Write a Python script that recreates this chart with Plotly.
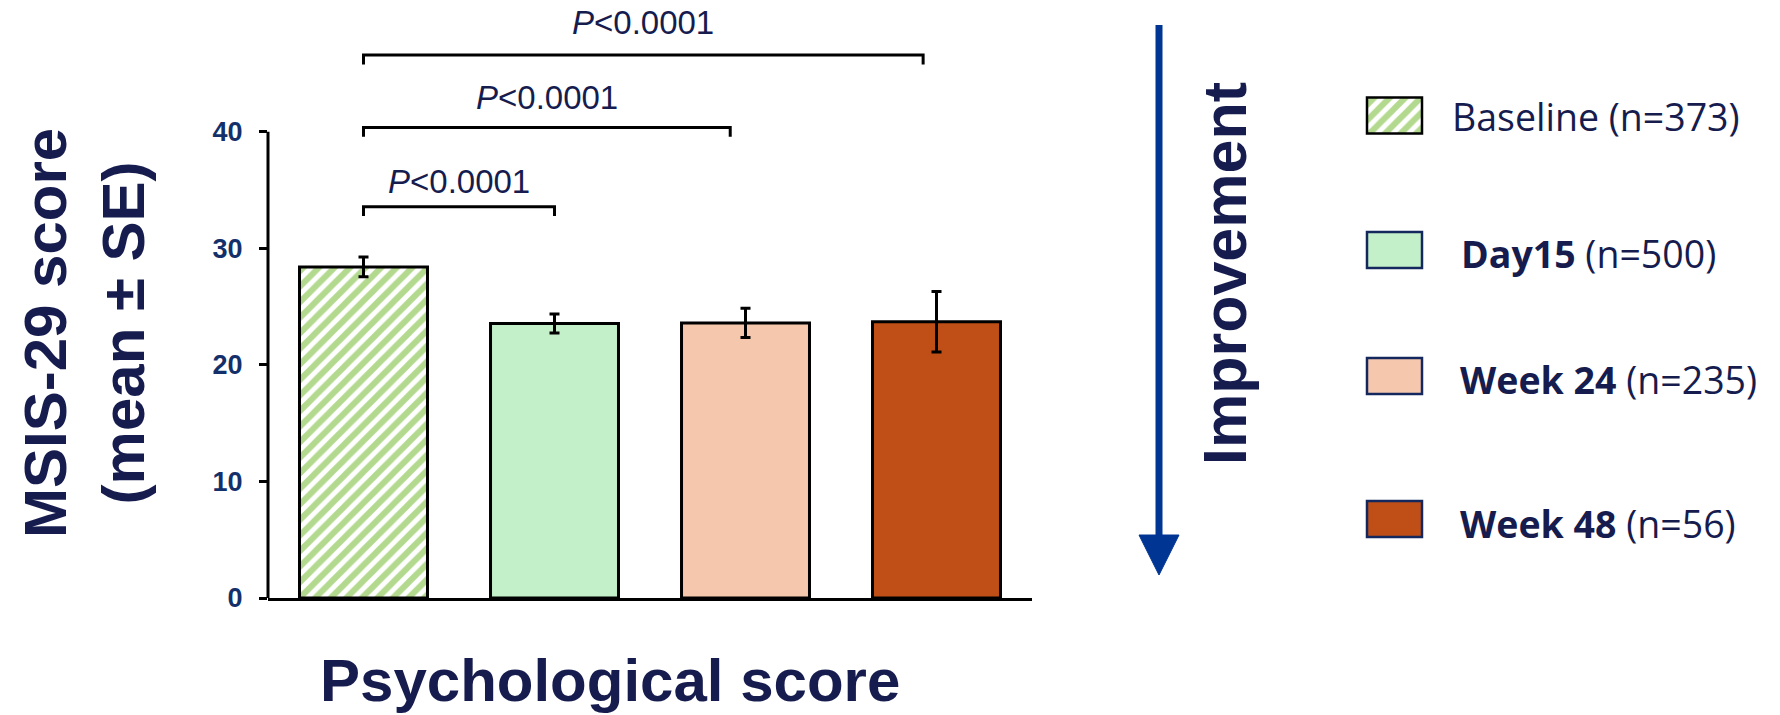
import plotly.graph_objects as go

# ---------------- data ----------------
categories = ["Baseline", "Day15", "Week 24", "Week 48"]
means = [28.4, 23.55, 23.6, 23.7]
se = [0.85, 0.82, 1.25, 2.6]
legend_labels = [
    "Baseline (n=373)",
    "<b>Day15</b> (n=500)",
    "<b>Week 24</b> (n=235)",
    "<b>Week 48</b> (n=56)",
]
y_ticks = [0, 10, 20, 30, 40]
comparisons = [(0, 1), (0, 2), (0, 3)]
p_labels = ["<i>P</i>&lt;0.0001", "<i>P</i>&lt;0.0001", "<i>P</i>&lt;0.0001"]
y_title = "MSIS-29 score<br>(mean ± SE)"
x_title = "Psychological score"
arrow_label = "Improvement"

# ---------------- styles / layout constants ----------------
W, H = 1780, 715
fill_colors = ["#ffffff", "#c3f0c8", "#f5c8ae", "#bf4f16"]
hatch = ["/", "", "", ""]
hatch_color = "#66b31c"
legend_border = ["#000000", "#14285e", "#14285e", "#14285e"]
NAVY = "#161c4e"
TICK_NAVY = "#13306b"
ARROW_BLUE = "#003594"


def px(xp):
    return xp / W


def py(yp):
    return 1 - yp / H


Y_MAX = 48
bracket_levels = [33.56, 40.37, 46.57]   # y of bracket bars
bracket_end_shift = [0.0, -0.08, -0.07]  # right end slightly inside bar centre
bracket_leg = 0.8
label_levels = [35.75, 42.95, 49.35]

fig = go.Figure()

for i, cat in enumerate(categories):
    fig.add_trace(go.Bar(
        x=[cat], y=[means[i]], width=0.67,
        marker=dict(
            color=fill_colors[i],
            line=dict(color="black", width=3),
            pattern=dict(shape=hatch[i], fgcolor=hatch_color, bgcolor=fill_colors[i],
                         size=11, solidity=0.55),
        ),
        error_y=dict(type="data", array=[se[i]], visible=True,
                     color="black", thickness=3, width=5),
        showlegend=False, xaxis="x", yaxis="y",
    ))

# legend swatches drawn as bars on an auxiliary axis
legend_rows_px = [115.5, 250, 376, 519]
for i, cat in enumerate(categories):
    fig.add_trace(go.Bar(
        y=[legend_rows_px[i]], x=[1], base=0, orientation="h", width=36,
        marker=dict(
            color=fill_colors[i],
            line=dict(color=legend_border[i], width=2.5),
            pattern=dict(shape=hatch[i], fgcolor=hatch_color, bgcolor=fill_colors[i],
                         size=11, solidity=0.55),
        ),
        showlegend=False, xaxis="x2", yaxis="y2", hoverinfo="skip",
    ))

shapes = []
annotations = []

# y-axis line from 0 to 40
shapes.append(dict(type="line", xref="x domain", yref="y", x0=0, x1=0,
                   y0=0, y1=max(y_ticks), line=dict(color="black", width=3)))

# significance brackets
for k, (a, b) in enumerate(comparisons):
    yb = bracket_levels[k]
    xa, xb = a, b + bracket_end_shift[k]
    shapes.append(dict(
        type="path", xref="x", yref="y",
        path=f"M {xa},{yb - bracket_leg} L {xa},{yb} L {xb},{yb} L {xb},{yb - bracket_leg}",
        line=dict(color="black", width=3),
    ))
    annotations.append(dict(
        x=(xa + xb) / 2, y=label_levels[k] / Y_MAX, xref="x", yref="y domain",
        text=p_labels[k], showarrow=False, xanchor="center", yanchor="middle",
        font=dict(family="Liberation Sans", size=33, color=NAVY),
    ))

# improvement arrow
shapes.append(dict(type="line", xref="paper", yref="paper",
                   x0=px(1159), x1=px(1159), y0=py(25), y1=py(540),
                   line=dict(color=ARROW_BLUE, width=7)))
shapes.append(dict(type="path", xref="paper", yref="paper",
                   path=f"M {px(1139)},{py(535)} L {px(1179)},{py(535)} L {px(1159)},{py(575)} Z",
                   fillcolor=ARROW_BLUE, line=dict(color=ARROW_BLUE, width=1)))
annotations.append(dict(
    x=px(1225), y=py(274), xref="paper", yref="paper", text=f"<b>{arrow_label}</b>",
    textangle=-90, showarrow=False, xanchor="center", yanchor="middle",
    font=dict(family="Liberation Sans", size=61, color=NAVY),
))

# axis titles
annotations.append(dict(
    x=px(84), y=py(333), xref="paper", yref="paper", text=f"<b>{y_title}</b>",
    textangle=-90, showarrow=False, xanchor="center", yanchor="middle",
    font=dict(family="Liberation Sans", size=60, color=NAVY),
))
annotations.append(dict(
    x=px(610), y=py(680), xref="paper", yref="paper", text=f"<b>{x_title}</b>",
    showarrow=False, xanchor="center", yanchor="middle",
    font=dict(family="Liberation Sans", size=60, color=NAVY),
))

# legend labels
legend_text_x = [1450, 1459, 1458, 1458]
legend_text_y = [116.7, 253, 379, 523]
for i, lab in enumerate(legend_labels):
    annotations.append(dict(
        x=px(legend_text_x[i]), y=py(legend_text_y[i]), xref="paper", yref="paper",
        text=lab, showarrow=False, xanchor="left", yanchor="middle",
        font=dict(family="Open Sans", size=37.5, color=NAVY),
    ))

fig.update_layout(
    width=W, height=H,
    margin=dict(l=0, r=0, t=0, b=0, autoexpand=False),
    paper_bgcolor="white", plot_bgcolor="white",
    barmode="overlay", showlegend=False,
    xaxis=dict(domain=[px(268), px(1032)], type="category", categoryorder="array",
               categoryarray=categories, range=[-0.5, 3.5],
               showticklabels=False, ticks="", showgrid=False, zeroline=False,
               showline=True, linecolor="black", linewidth=3, fixedrange=True),
    yaxis=dict(domain=[py(598), py(38.44)], range=[0, Y_MAX],
               tickvals=y_ticks, ticks="outside", ticklen=8, tickwidth=3, tickcolor="black",
               ticklabelstandoff=11,
               tickfont=dict(family="Liberation Sans", size=27, color=TICK_NAVY, weight="bold"),
               showgrid=False, zeroline=False, showline=False, fixedrange=True),
    xaxis2=dict(domain=[px(1363), px(1426)], range=[-0.0727, 1.0727], anchor="y2",
                visible=False, fixedrange=True),
    yaxis2=dict(domain=[0, 1], range=[H, 0], anchor="x2", visible=False, fixedrange=True),
    shapes=shapes, annotations=annotations,
)

fig.write_html(
    "out.html",
    config={"displayModeBar": False},
    post_script="document.body.style.margin='0';document.body.style.padding='0';",
)
